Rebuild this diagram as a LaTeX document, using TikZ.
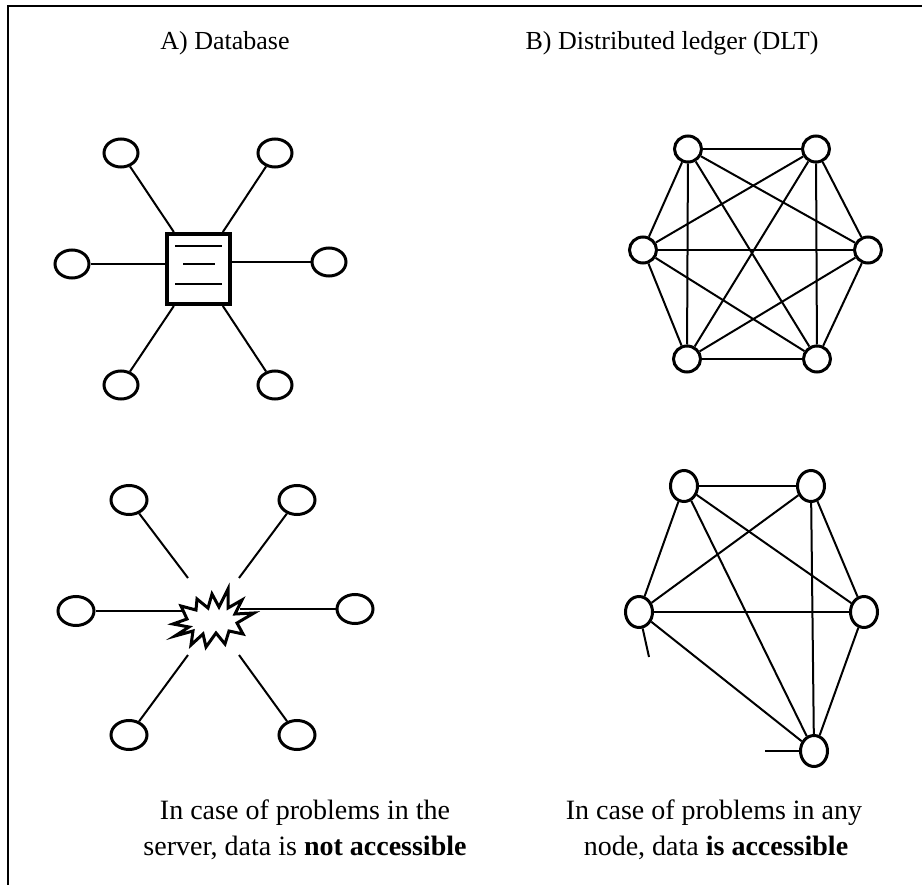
\documentclass[tikz,border=0pt]{standalone}
\usepackage{fontspec}
\setmainfont{Liberation Serif}
\usetikzlibrary{shapes.geometric}
\begin{document}
\begin{tikzpicture}[x=1pt,y=-1pt,
  edge/.style={line width=2pt},
  frame/.style={line width=2.2pt},
  ovA/.style={ellipse,draw,line width=3pt,minimum width=34pt,minimum height=28pt,inner sep=0pt},
  ovB/.style={ellipse,draw,line width=3pt,minimum width=36pt,minimum height=29pt,inner sep=0pt},
  ovC/.style={ellipse,draw,line width=3pt,minimum width=27pt,minimum height=26pt,inner sep=0pt},
  ovD/.style={ellipse,draw,line width=3pt,minimum width=27pt,minimum height=31pt,inner sep=0pt},
  server/.style={rectangle,draw,line width=4pt,minimum width=63pt,minimum height=70pt,inner sep=0pt},
  boom/.style={line width=3pt,fill=white,line join=miter},
  title/.style={anchor=base,font=\fontsize{26}{30}\selectfont},
  caption/.style={anchor=base,font=\fontsize{28}{34}\selectfont}
]
\useasboundingbox (0,0) rectangle (922,885);
\draw[frame] (8,885) -- (8,6) -- (922,6);

% titles
\node[title] (ta) at (225,50) {A) Database};
\node[title] (tb) at (672,50) {B) Distributed ledger (DLT)};

% A) database star
\node[server] (sq) at (198.5,269) {};
\draw[edge] ([shift={(-23.5,-23)}]sq.center) -- ([shift={(23.5,-23)}]sq.center);
\draw[edge] ([shift={(-15.5,-5)}]sq.center) -- ([shift={(16.5,-5)}]sq.center);
\draw[edge] ([shift={(-23.5,15)}]sq.center) -- ([shift={(23.5,15)}]sq.center);
\node[ovA] (a1) at (121,153) {};
\node[ovA] (a2) at (275,153) {};
\node[ovA] (a3) at (72,264) {};
\node[ovA] (a4) at (329,262) {};
\node[ovA] (a5) at (121,385) {};
\node[ovA] (a6) at (275,385) {};
\draw[edge] (a1) -- (sq);
\draw[edge] (a2) -- (sq);
\draw[edge] (a3) -- (a3 -| sq.west);
\draw[edge] (a4) -- (a4 -| sq.east);
\draw[edge] (a5) -- (sq);
\draw[edge] (a6) -- (sq);

% A) failed server
\node[ovB] (b1) at (129,500) {};
\node[ovB] (b2) at (297,500) {};
\node[ovB] (b3) at (76,611) {};
\node[ovB] (b4) at (355,609) {};
\node[ovB] (b5) at (129,735) {};
\node[ovB] (b6) at (297,735) {};
\coordinate (e1) at (188,578);
\coordinate (e2) at (239,578);
\coordinate (e3) at (195,611);
\coordinate (e4) at (240,609);
\coordinate (e5) at (188,655);
\coordinate (e6) at (239,655);
\draw[edge] (b1) -- (e1);
\draw[edge] (b2) -- (e2);
\draw[edge] (b3) -- (e3);
\draw[edge] (b4) -- (e4);
\draw[edge] (b5) -- (e5);
\draw[edge] (b6) -- (e6);
\draw[boom,shift={(211,619)}]
  (-38,5) -- (-24,0) -- (-30,-13) -- (-15,-9) -- (-14,-20) -- (-3,-11)
  -- (1,-25) -- (8,-12) -- (17,-30) -- (17,-11) -- (31,-19) -- (24,-5)
  -- (43,-6) -- (26,4) -- (32,15) -- (18,12) -- (14,25) -- (5,14)
  -- (-5,28) -- (-8,15) -- (-20,26) -- (-18,12) -- (-36,17) -- (-22,8) -- cycle;

% B) full mesh
\node[ovC] (c1) at (688,149) {};
\node[ovC] (c2) at (816,149) {};
\node[ovC] (c3) at (643,250) {};
\node[ovC] (c4) at (868,250) {};
\node[ovC] (c5) at (687,359) {};
\node[ovC] (c6) at (817,359) {};
\foreach \i/\j in {1/2,1/3,1/4,1/5,1/6,2/3,2/4,2/5,2/6,3/4,3/5,3/6,4/5,4/6,5/6}
  \draw[edge] (c\i) -- (c\j);

% B) mesh with a failed node
\node[ovD] (d1) at (684,486) {};
\node[ovD] (d2) at (811,486) {};
\node[ovD] (d3) at (639,612) {};
\node[ovD] (d4) at (864,612) {};
\node[ovD] (d5) at (814,751) {};
\foreach \i/\j in {1/2,1/3,1/4,1/5,2/3,2/4,2/5,3/4,3/5,4/5}
  \draw[edge] (d\i) -- (d\j);
\coordinate (s1) at (649,657);
\coordinate (s2) at (765,751);
\draw[edge] (d3) -- (s1);
\draw[edge] (d5) -- (s2);

% captions
\node[caption] (ca1) at (305,819) {In case of problems in the};
\node[caption] (ca2) at (305,855) {server, data is \textbf{not accessible}};
\node[caption] (cb1) at (714,819) {In case of problems in any};
\node[caption] (cb2) at (716,855) {node, data \textbf{is accessible}};
\end{tikzpicture}
\end{document}
